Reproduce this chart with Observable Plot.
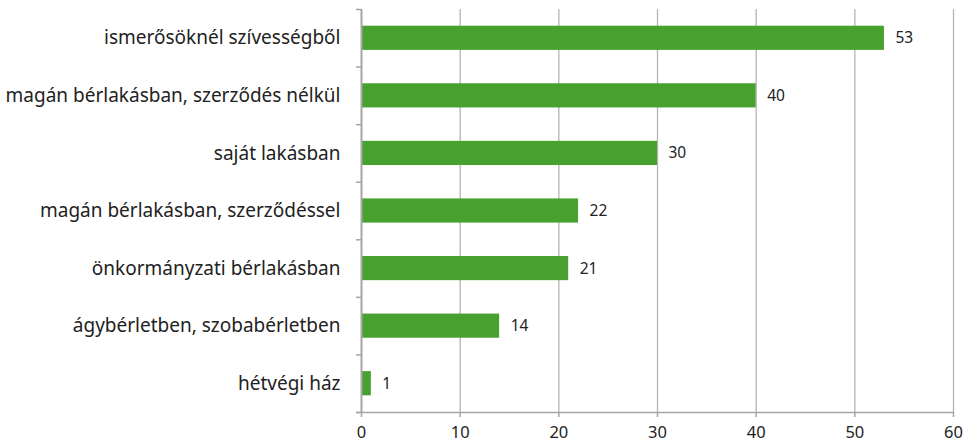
<!DOCTYPE html>
<html>
<head>
<meta charset="utf-8">
<script src="https://cdn.jsdelivr.net/npm/d3@7"></script>
<script src="https://cdn.jsdelivr.net/npm/@observablehq/plot@0.6"></script>
<style>
  html, body { margin: 0; padding: 0; background: #fff; }
  svg { font-family: "Noto Sans", sans-serif; }
</style>
</head>
<body>
<div id="chart"></div>
<script>
const categories = [
  "ismerősöknél szívességből",
  "magán bérlakásban, szerződés nélkül",
  "saját lakásban",
  "magán bérlakásban, szerződéssel",
  "önkormányzati bérlakásban",
  "ágybérletben, szobabérletben",
  "hétvégi ház"
];
const values = [53, 40, 30, 22, 21, 14, 1];
const xTicks = [0, 10, 20, 30, 40, 50, 60];

const data = categories.map((c, i) => ({category: c, value: values[i], idx: i}));
const idxs = categories.map((_, i) => i);
const bounds = d3.range(-0.5, categories.length, 1);
const half = 0.21;
const axisColor = "#a6a6a6";

const chart = Plot.plot({
  width: 970,
  height: 444,
  marginLeft: 361,
  marginRight: 17,
  marginTop: 9,
  marginBottom: 32,
  x: {domain: [0, 60], label: null},
  y: {domain: [-0.5, categories.length - 0.5], reverse: true, label: null},
  marks: [
    Plot.gridX(xTicks.slice(1), {stroke: "#b4b4b4", strokeOpacity: 1, strokeWidth: 1.3}),
    Plot.rectX(data, {x1: 0, x2: "value", y1: d => d.idx - half, y2: d => d.idx + half, fill: "#48a12f"}),
    Plot.text(data, {x: "value", y: "idx", text: d => String(d.value), textAnchor: "start", dx: 11, fontSize: 15.5, fill: "#222"}),
    Plot.ruleX([0], {y1: -0.5, y2: categories.length - 0.5, stroke: axisColor, strokeWidth: 2}),
    Plot.ruleY([categories.length - 0.5], {x1: 0, x2: 60, insetLeft: -5, stroke: axisColor, strokeWidth: 1.5}),
    Plot.axisY({ticks: bounds, tickSize: 5, tickFormat: () => "", stroke: axisColor, strokeWidth: 1.5, label: null}),
    Plot.axisY({ticks: idxs, tickSize: 0, tickPadding: 21, tickFormat: i => categories[i], fontSize: 19, fill: "#222", label: null}),
    Plot.axisX({ticks: xTicks, tickSize: 5, tickPadding: 9, fontSize: 16.5, fill: "#222", stroke: axisColor, strokeWidth: 1.5, label: null})
  ]
});
document.getElementById("chart").appendChild(chart);
</script>
</body>
</html>
